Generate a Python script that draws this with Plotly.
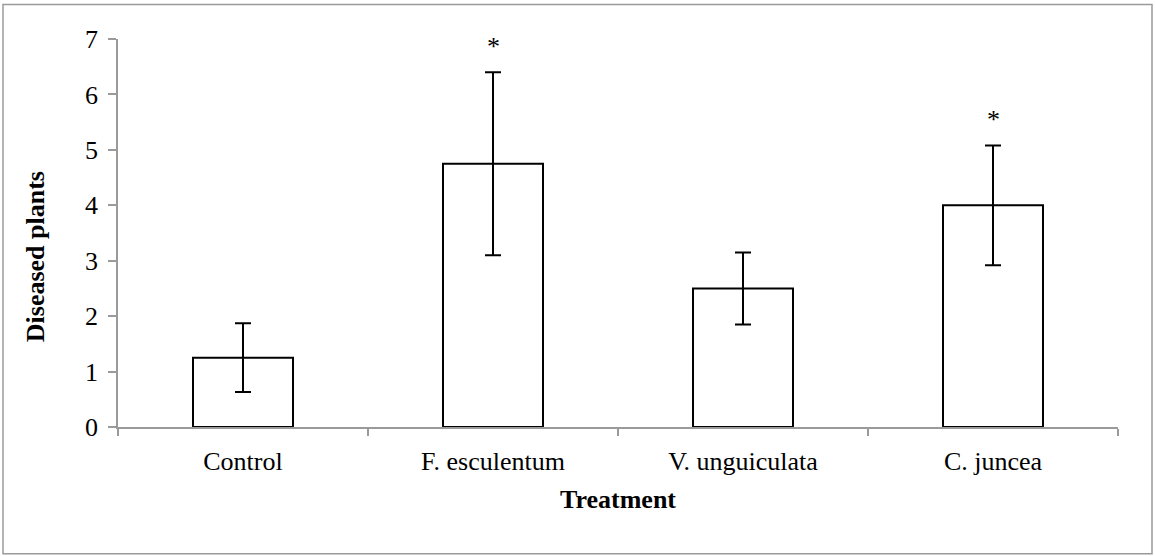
import plotly.graph_objects as go

# Mean number of diseased plants per treatment, with standard error
treatments = ["Control", "F. esculentum", "V. unguiculata", "C. juncea"]
diseased_means = [1.25, 4.75, 2.5, 4.0]
diseased_se = [0.62, 1.65, 0.65, 1.08]
significant = [False, True, False, True]
y_ticks = [0, 1, 2, 3, 4, 5, 6, 7]

SERIF = "Liberation Serif, Times New Roman, serif"
AXIS_GREY = "#9a9a9a"

fig = go.Figure()
fig.add_trace(go.Bar(
    x=treatments,
    y=diseased_means,
    width=0.4,
    marker=dict(color="white", line=dict(color="black", width=2)),
    error_y=dict(type="data", array=diseased_se, visible=True,
                 color="black", thickness=2, width=8),
    showlegend=False,
))

# Significance markers above the error bars
for name, m, se, sig in zip(treatments, diseased_means, diseased_se, significant):
    if sig:
        fig.add_annotation(x=name, y=m + se, text="*", showarrow=False,
                           yanchor="middle", yshift=26,
                           font=dict(family=SERIF, size=26, color="black"))

# Axis titles
fig.add_annotation(xref="paper", yref="paper", x=-0.083, y=0.4376,
                   text="<b>Diseased plants</b>", textangle=-90, showarrow=False,
                   xanchor="center", yanchor="middle",
                   font=dict(family=SERIF, size=26, color="black"))
fig.add_annotation(xref="paper", yref="paper", x=0.5, y=-0.188,
                   text="<b>Treatment</b>", showarrow=False,
                   xanchor="center", yanchor="middle",
                   font=dict(family=SERIF, size=26, color="black"))

# Outer frame around the whole chart
fig.add_shape(type="rect", xref="paper", yref="paper",
              x0=-0.115, x1=1.034, y0=-0.3269, y1=1.0888,
              line=dict(color=AXIS_GREY, width=1.5), fillcolor="rgba(0,0,0,0)",
              layer="below")

fig.update_layout(
    width=1155, height=556,
    margin=dict(l=118, r=37, t=38.5, b=129),
    paper_bgcolor="white", plot_bgcolor="white",
    font=dict(family=SERIF, size=26, color="black"),
    bargap=0.6,
    xaxis=dict(
        type="category", showgrid=False, zeroline=False,
        showline=True, linecolor=AXIS_GREY, linewidth=1.5,
        ticks="outside", tickson="boundaries", ticklen=7,
        tickcolor=AXIS_GREY, tickwidth=1.5,
        ticklabelstandoff=10,
        tickfont=dict(family=SERIF, size=26, color="black"),
    ),
    yaxis=dict(
        range=[0, 7], tickvals=y_ticks, showgrid=False, zeroline=False,
        showline=True, linecolor=AXIS_GREY, linewidth=1.5,
        ticks="outside", ticklen=8, tickcolor=AXIS_GREY, tickwidth=1.5,
        ticklabelstandoff=5,
        tickfont=dict(family=SERIF, size=26, color="black"),
    ),
)

fig.write_html("out.html")
